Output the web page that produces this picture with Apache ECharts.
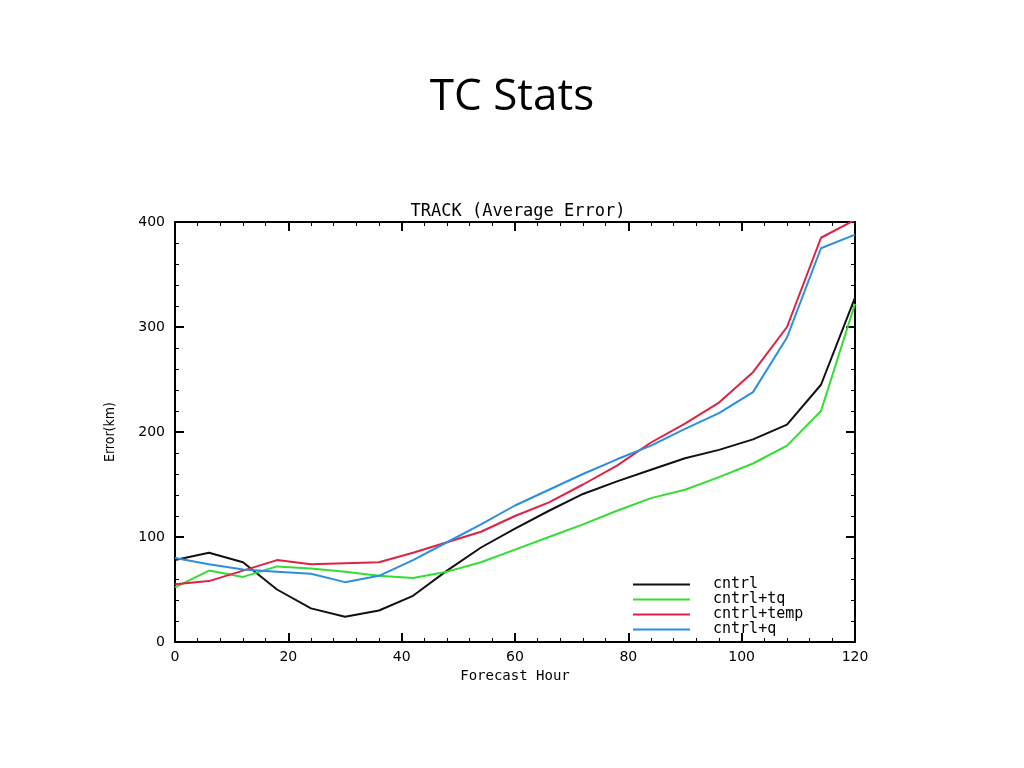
<!DOCTYPE html>
<html><head><meta charset="utf-8">
<script src="https://cdn.jsdelivr.net/npm/echarts@6/dist/echarts.min.js"></script>
<style>html,body{margin:0;background:#fff}#c{width:1024px;height:768px}</style>
</head><body><div id="c"></div>
<script>
const hours = [0,6,12,18,24,30,36,42,48,54,60,66,72,78,84,90,96,102,108,114,120];
const cntrl = [78,85,76,50,32,24,30,44,68,90,108,125,141,153,164,175,183,193,207,245,328];
const cntrlTq = [52,68,62,72,70,67,63,61,67,76,88,100,112,125,137,145,157,170,187,220,322];
const cntrlTemp = [55,58,68,78,74,75,76,85,95,105,120,133,150,168,190,208,228,257,300,385,402];
const cntrlQ = [80,74,69,67,65,57,63,78,95,112,130,145,160,174,187,203,218,238,290,375,388];

const names = ['cntrl', 'cntrl+tq', 'cntrl+temp', 'cntrl+q'];
const colors = ['#111111', '#33dd33', '#dd2244', '#2b8fdd'];
const values = [cntrl, cntrlTq, cntrlTemp, cntrlQ];

const chart = echarts.init(document.getElementById('c'));
const axisCommon = () => ({
  axisLine: { show: true, onZero: false, lineStyle: { color: '#000', width: 2 } },
  axisTick: { show: true, inside: true, length: 9, lineStyle: { color: '#000', width: 2 } },
  minorTick: { show: true, splitNumber: 5, length: 4, lineStyle: { color: '#000' } },
  splitLine: { show: false }
});
chart.setOption({
  animation: false,
  title: [
    { text: 'TC Stats', left: 'center', top: 70, textStyle: { fontSize: 44, fontWeight: 'normal', fontFamily: 'Open Sans', color: '#000' } },
    { text: 'TRACK (Average Error)', left: 513, textAlign: 'center', top: 198, textStyle: { fontSize: 17, fontWeight: 'normal', fontFamily: 'DejaVu Sans Mono', color: '#000' } }
  ],
  legend: {
    orient: 'vertical', left: 628, top: 572, itemWidth: 57, itemHeight: 2, itemGap: 0,
    icon: 'rect', textStyle: { fontSize: 15, fontFamily: 'DejaVu Sans Mono', color: '#000', padding: [0, 0, 0, 18], lineHeight: 12 },
    data: names
  },
  grid: { left: 175, right: 169, top: 222, bottom: 126 },
  xAxis: [
    Object.assign(axisCommon(), { type: 'value', min: 0, max: 120, interval: 20, name: 'Forecast Hour', nameLocation: 'middle', nameGap: 24,
      nameTextStyle: { fontSize: 14, fontFamily: 'DejaVu Sans Mono', color: '#000' },
      axisLabel: { fontSize: 14, color: '#000', fontFamily: 'DejaVu Sans', margin: 8 } }),
    Object.assign(axisCommon(), { type: 'value', min: 0, max: 120, interval: 20, position: 'top', axisLabel: { show: false } })
  ],
  yAxis: [
    Object.assign(axisCommon(), { type: 'value', min: 0, max: 400, interval: 100, name: 'Error(km)', nameLocation: 'middle', nameGap: 58,
      nameTextStyle: { fontSize: 14, fontFamily: 'DejaVu Sans Condensed', color: '#000' },
      axisLabel: { fontSize: 14, color: '#000', fontFamily: 'DejaVu Sans', margin: 10 } }),
    Object.assign(axisCommon(), { type: 'value', min: 0, max: 400, interval: 100, position: 'right', axisLabel: { show: false } })
  ],
  series: names.map((n, i) => ({
    name: n, type: 'line', showSymbol: false, color: colors[i],
    lineStyle: { width: 2, color: colors[i] },
    data: hours.map((h, j) => [h, values[i][j]])
  }))
});
</script></body></html>
